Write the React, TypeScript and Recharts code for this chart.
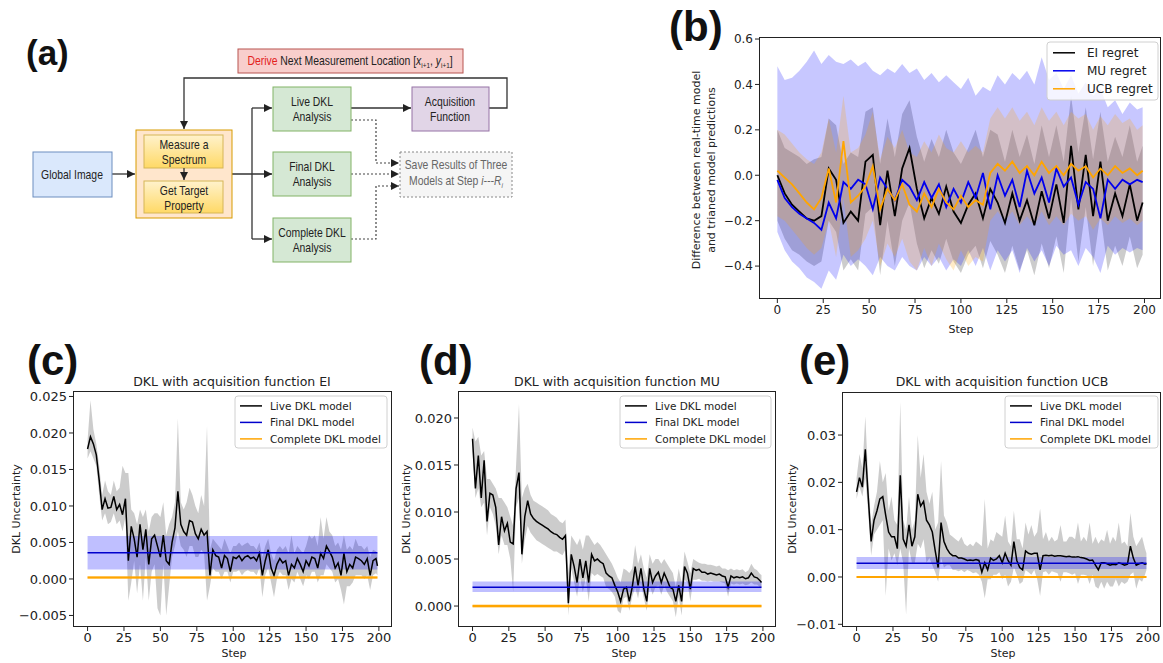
import { ComposedChart, Line, Area, XAxis, YAxis } from 'recharts';

// (b) is sampled every 4 steps, (c)-(e) every 2 steps (plus the last step)
const STEPS = [0, 4, 8, 12, 16, 20, 24, 28, 32, 36, 40, 44, 48, 52, 56, 60, 64, 68, 72, 76, 80, 84, 88, 92, 96, 100, 104, 108, 112, 116, 120, 124, 128, 132, 136, 140, 144, 148, 152, 156, 160, 164, 168, 172, 176, 180, 184, 188, 192, 196, 199];
const STEPS2 = [
  0, 2, 4, 6, 8, 10, 12, 14, 16, 18, 20, 22, 24, 26, 28, 30, 32, 34, 36, 38,
  40, 42, 44, 46, 48, 50, 52, 54, 56, 58, 60, 62, 64, 66, 68, 70, 72, 74, 76, 78,
  80, 82, 84, 86, 88, 90, 92, 94, 96, 98, 100, 102, 104, 106, 108, 110, 112, 114, 116, 118,
  120, 122, 124, 126, 128, 130, 132, 134, 136, 138, 140, 142, 144, 146, 148, 150, 152, 154, 156, 158,
  160, 162, 164, 166, 168, 170, 172, 174, 176, 178, 180, 182, 184, 186, 188, 190, 192, 194, 196, 198, 199,
];
const X_TICKS = [0, 25, 50, 75, 100, 125, 150, 175, 200];

// (b) regret curves
const EI_REGRET = [0.0, -0.08, -0.13, -0.16, -0.19, -0.2, -0.18, 0.03, -0.02, -0.21, -0.16, -0.2, 0.06, 0.09, -0.22, 0.02, -0.18, 0.03, 0.12, -0.06, -0.19, -0.1, -0.17, -0.05, -0.16, -0.21, -0.13, -0.08, -0.19, -0.06, -0.12, -0.21, -0.08, -0.2, -0.11, -0.22, -0.07, -0.19, -0.04, -0.21, 0.13, -0.15, 0.09, -0.18, 0.06, -0.2, -0.08, -0.18, -0.04, -0.2, -0.12];
const EI_REGRET_HI = [0.2, 0.12, 0.1, 0.08, 0.05, 0.07, 0.08, 0.25, 0.22, 0.05, 0.1, 0.08, 0.28, 0.3, 0.05, 0.25, 0.08, 0.27, 0.33, 0.17, 0.06, 0.16, 0.08, 0.2, 0.1, 0.05, 0.12, 0.2, 0.08, 0.2, 0.18, 0.06, 0.2, 0.08, 0.18, 0.05, 0.22, 0.08, 0.22, 0.06, 0.35, 0.1, 0.3, 0.07, 0.28, 0.06, 0.17, 0.08, 0.22, 0.06, 0.13];
const EI_REGRET_LO = [-0.2, -0.28, -0.33, -0.35, -0.38, -0.4, -0.38, -0.2, -0.25, -0.42, -0.37, -0.42, -0.17, -0.14, -0.44, -0.2, -0.4, -0.2, -0.12, -0.3, -0.41, -0.33, -0.39, -0.28, -0.38, -0.43, -0.35, -0.31, -0.41, -0.29, -0.35, -0.43, -0.31, -0.42, -0.33, -0.44, -0.3, -0.41, -0.27, -0.43, -0.1, -0.38, -0.14, -0.4, -0.17, -0.42, -0.31, -0.4, -0.27, -0.41, -0.35];

const MU_REGRET = [-0.02, -0.1, -0.14, -0.17, -0.19, -0.21, -0.24, -0.12, -0.19, -0.03, -0.06, -0.02, -0.04, -0.15, -0.01, -0.06, -0.11, -0.02, -0.05, -0.11, -0.03, -0.1, -0.04, -0.14, -0.06, -0.12, -0.03, -0.1, 0.01, -0.15, 0.0, -0.09, -0.02, -0.14, 0.02, -0.08, -0.01, -0.12, 0.03, -0.05, -0.01, -0.13, -0.03, -0.06, -0.19, -0.02, -0.06, -0.02, -0.04, -0.02, -0.03];
const MU_REGRET_HI = [0.48, 0.42, 0.43, 0.46, 0.5, 0.55, 0.49, 0.53, 0.5, 0.49, 0.51, 0.48, 0.5, 0.46, 0.44, 0.47, 0.45, 0.49, 0.45, 0.47, 0.42, 0.45, 0.41, 0.44, 0.41, 0.38, 0.43, 0.35, 0.39, 0.37, 0.44, 0.4, 0.45, 0.42, 0.46, 0.4, 0.52, 0.42, 0.45, 0.38, 0.44, 0.36, 0.41, 0.35, 0.38, 0.3, 0.33, 0.27, 0.32, 0.29, 0.3];
const MU_REGRET_LO = [-0.25, -0.33, -0.38, -0.41, -0.45, -0.47, -0.5, -0.42, -0.46, -0.35, -0.4, -0.37, -0.4, -0.44, -0.36, -0.4, -0.42, -0.36, -0.4, -0.42, -0.36, -0.4, -0.36, -0.42, -0.37, -0.4, -0.33, -0.4, -0.32, -0.42, -0.33, -0.38, -0.33, -0.43, -0.32, -0.38, -0.33, -0.4, -0.31, -0.35, -0.33, -0.4, -0.32, -0.36, -0.43, -0.31, -0.35, -0.32, -0.34, -0.32, -0.33];

const UCB_REGRET = [0.02, -0.01, -0.04, -0.08, -0.12, -0.15, -0.1, 0.03, -0.12, 0.15, -0.12, -0.09, -0.05, 0.04, -0.15, -0.06, -0.11, -0.04, -0.13, -0.16, -0.08, -0.14, -0.06, -0.12, -0.15, -0.09, -0.14, -0.11, -0.13, 0.01, 0.05, 0.02, 0.06, 0.01, 0.04, 0.0, 0.06, 0.01, 0.04, 0.0, 0.05, 0.02, 0.04, -0.01, 0.03, 0.0, 0.04, 0.01, 0.03, 0.0, 0.02];
const UCB_REGRET_HI = [0.2, 0.18, 0.14, 0.1, 0.07, 0.05, 0.1, 0.25, 0.1, 0.35, 0.1, 0.12, 0.18, 0.28, 0.07, 0.17, 0.12, 0.2, 0.1, 0.08, 0.15, 0.1, 0.18, 0.12, 0.1, 0.15, 0.1, 0.13, 0.1, 0.25, 0.3, 0.25, 0.3, 0.24, 0.28, 0.22, 0.3, 0.24, 0.28, 0.22, 0.28, 0.25, 0.27, 0.2, 0.26, 0.22, 0.27, 0.23, 0.25, 0.2, 0.22];
const UCB_REGRET_LO = [-0.18, -0.2, -0.24, -0.28, -0.32, -0.35, -0.32, -0.2, -0.36, -0.1, -0.36, -0.33, -0.28, -0.2, -0.4, -0.3, -0.36, -0.28, -0.38, -0.42, -0.32, -0.4, -0.3, -0.37, -0.42, -0.33, -0.4, -0.36, -0.38, -0.2, -0.16, -0.2, -0.16, -0.22, -0.18, -0.22, -0.16, -0.22, -0.18, -0.22, -0.17, -0.2, -0.18, -0.24, -0.19, -0.22, -0.18, -0.21, -0.19, -0.22, -0.2];

// (c) DKL uncertainty, acquisition EI
const EI_LIVE = [
  0.0178, 0.0195, 0.0185, 0.017, 0.0135, 0.0095, 0.011, 0.0097, 0.0098, 0.0113,
  0.0095, 0.0102, 0.0088, 0.011, 0.0025, 0.0072, 0.0055, 0.003, 0.0075, 0.004,
  0.0068, 0.002, 0.0055, 0.006, 0.0045, 0.003, 0.006, 0.0025, 0.002, 0.005,
  0.007, 0.012, 0.0075, 0.0065, 0.006, 0.008, 0.0078, 0.0062, 0.0055, 0.0068,
  0.006, 0.0065, 0.0005, 0.004, 0.0032, 0.003, 0.0015, 0.0032, 0.0028, 0.001,
  0.003, 0.0028, 0.0032, 0.0025, 0.003, 0.0032, 0.0028, 0.003, 0.0025, 0.0035,
  0.0005, 0.0025, 0.004, 0.0015, 0.0005, 0.002, 0.0028, 0.0022, 0.0025, 0.0005,
  0.002, 0.0015, 0.0028, 0.002, 0.001, 0.0025, 0.0018, 0.003, 0.0028, 0.0015,
  0.0035, 0.0028, 0.0045, 0.0038, 0.003, 0.0015, 0.0022, 0.0005, 0.0035, 0.001,
  0.002, 0.0015, 0.003, 0.0028, 0.0025, 0.002, 0.0028, 0.0005, 0.0025, 0.0028, 0.0018,
];
const EI_LIVE_HI = [
  0.019, 0.0245, 0.0205, 0.0185, 0.0155, 0.0115, 0.0135, 0.012, 0.0115, 0.0135,
  0.012, 0.0125, 0.0155, 0.0145, 0.0145, 0.0095, 0.009, 0.0075, 0.0095, 0.0085,
  0.0095, 0.0065, 0.0085, 0.009, 0.009, 0.0085, 0.0105, 0.006, 0.0075, 0.0085,
  0.0105, 0.022, 0.0105, 0.0095, 0.0105, 0.0125, 0.0115, 0.01, 0.009, 0.0115,
  0.01, 0.021, 0.004, 0.0055, 0.005, 0.0045, 0.004, 0.0055, 0.0045, 0.0035,
  0.0045, 0.0045, 0.005, 0.0045, 0.0048, 0.005, 0.0045, 0.0045, 0.004, 0.005,
  0.003, 0.0045, 0.0055, 0.0035, 0.0025, 0.004, 0.0045, 0.004, 0.0045, 0.0035,
  0.006, 0.0035, 0.0045, 0.004, 0.0035, 0.0045, 0.006, 0.0055, 0.006, 0.0045,
  0.0085, 0.0055, 0.0085, 0.0065, 0.006, 0.0045, 0.005, 0.004, 0.006, 0.004,
  0.0045, 0.004, 0.0055, 0.0045, 0.0045, 0.004, 0.0045, 0.003, 0.004, 0.0038, 0.0035,
];
const EI_LIVE_LO = [
  0.0165, 0.0175, 0.0165, 0.0155, 0.0115, 0.008, 0.009, 0.0075, 0.0078, 0.009,
  0.0075, 0.008, 0.0065, 0.0085, -0.003, -0.0005, 0.0025, -0.002, 0.002, -0.003,
  0.003, -0.003, 0.001, 0.002, -0.004, -0.005, 0.002, -0.005, -0.001, 0.003,
  0.0045, 0.0065, 0.0045, 0.004, 0.003, 0.0045, 0.0045, 0.003, 0.003, 0.004,
  0.0035, -0.003, -0.001, 0.0015, 0.001, 0.001, 0.0, 0.001, 0.001, -0.0005,
  0.001, 0.001, 0.0012, 0.0005, 0.001, 0.0012, 0.001, 0.001, 0.0005, 0.0015,
  -0.0025, 0.0005, 0.0015, -0.0005, -0.0025, 0.0, 0.001, 0.0005, 0.0005, -0.0015,
  0.0, -0.0005, 0.001, 0.0, -0.001, 0.0005, 0.0, 0.001, 0.001, -0.0005,
  0.0005, 0.0005, 0.002, 0.0015, 0.001, -0.0005, 0.0, -0.0015, -0.0035, -0.001,
  -0.001, -0.0005, 0.0005, 0.0005, 0.0005, 0.0, 0.0005, -0.0015, 0.0005, 0.0008, 0.0005,
];
const EI_FINAL = [0.0013, 0.0036, 0.0059]; // low, mean, high
const EI_COMPLETE = [0.0, 0.0002, 0.0004];

// (d) acquisition MU
const MU_LIVE = [
  0.0178, 0.0125, 0.016, 0.0115, 0.0155, 0.009, 0.012, 0.0118, 0.0105, 0.0065,
  0.0095, 0.008, 0.0088, 0.0068, 0.0066, 0.0125, 0.0142, 0.0055, 0.0095, 0.0112,
  0.0098, 0.0093, 0.009, 0.0088, 0.0086, 0.0084, 0.0082, 0.0079, 0.0077, 0.0076,
  0.0073, 0.0071, 0.0075, 0.0003, 0.0055, 0.0042, 0.0025, 0.005, 0.003, 0.0048,
  0.0025, 0.0055, 0.0048, 0.005, 0.0047, 0.0045, 0.0035, 0.0032, 0.003, 0.0022,
  0.0015, 0.0005, 0.0018, 0.002, 0.0005, 0.002, 0.0042, 0.0022, 0.004, 0.0018,
  0.0005, 0.004, 0.0025, 0.0032, 0.0036, 0.0025, 0.0035, 0.0028, 0.002, 0.0018,
  0.0005, 0.0022, 0.0005, 0.0042, 0.0035, 0.0018, 0.004, 0.0038, 0.0039, 0.0036,
  0.0036, 0.0034, 0.0035, 0.0034, 0.0033, 0.0034, 0.0032, 0.0031, 0.002, 0.0032,
  0.003, 0.0031, 0.003, 0.0031, 0.0029, 0.003, 0.0035, 0.0031, 0.003, 0.0027, 0.0025,
];
const MU_LIVE_HI = [
  0.019, 0.0175, 0.018, 0.016, 0.0165, 0.0135, 0.0135, 0.013, 0.0125, 0.0115,
  0.0115, 0.011, 0.0105, 0.0095, 0.0085, 0.015, 0.0215, 0.0115, 0.0125, 0.013,
  0.0118, 0.0112, 0.011, 0.0108, 0.0106, 0.0104, 0.0102, 0.0098, 0.0096, 0.0094,
  0.009, 0.0088, 0.0092, 0.0035, 0.0075, 0.007, 0.0065, 0.0072, 0.006, 0.0075,
  0.0075, 0.007, 0.0065, 0.0068, 0.0065, 0.006, 0.0055, 0.005, 0.0045, 0.0038,
  0.003, 0.0025, 0.004, 0.0038, 0.0035, 0.004, 0.0065, 0.0045, 0.0055, 0.004,
  0.003, 0.0055, 0.0045, 0.005, 0.005, 0.0045, 0.005, 0.0045, 0.004, 0.0035,
  0.002, 0.004, 0.0025, 0.0058, 0.0047, 0.0035, 0.005, 0.0048, 0.0046, 0.0045,
  0.0045, 0.0044, 0.0044, 0.0043, 0.0042, 0.0043, 0.004, 0.004, 0.0038, 0.004,
  0.0038, 0.0039, 0.0038, 0.0039, 0.0036, 0.0038, 0.0045, 0.004, 0.0038, 0.0034, 0.0033,
];
const MU_LIVE_LO = [
  0.0165, 0.0115, 0.0125, 0.0105, 0.011, 0.0075, 0.0105, 0.0098, 0.0085, 0.0055,
  0.0075, 0.0065, 0.0065, 0.005, 0.0015, 0.0105, 0.0115, 0.0045, 0.007, 0.0085,
  0.0078, 0.0074, 0.007, 0.0068, 0.0066, 0.0064, 0.0062, 0.006, 0.0058, 0.0058,
  0.0056, 0.0054, 0.006, -0.001, 0.004, 0.0025, 0.001, 0.003, 0.0015, 0.003,
  0.0005, 0.0035, 0.0032, 0.0034, 0.0032, 0.003, 0.002, 0.0018, 0.0015, 0.001,
  -0.0005, -0.0008, 0.0008, 0.001, -0.0005, 0.001, 0.002, 0.0008, 0.0025, 0.0008,
  -0.0005, 0.0022, 0.0012, 0.002, 0.0022, 0.0012, 0.0022, 0.0015, 0.001, 0.0005,
  -0.0012, 0.001, -0.001, 0.0028, 0.0025, 0.0005, 0.0028, 0.0028, 0.0029, 0.0027,
  0.0027, 0.0026, 0.0027, 0.0026, 0.0026, 0.0026, 0.0025, 0.0024, 0.001, 0.0024,
  0.0023, 0.0024, 0.0023, 0.0024, 0.0022, 0.0023, 0.0025, 0.0023, 0.0023, 0.002, 0.002,
];
const MU_FINAL = [0.0015, 0.002, 0.0026];
const MU_COMPLETE = [-0.0002, 0.0, 0.0002];

// (e) acquisition UCB
const UCB_LIVE = [
  0.018, 0.021, 0.019, 0.027, 0.017, 0.0075, 0.012, 0.014, 0.0165, 0.017,
  0.013, 0.0095, 0.0085, 0.0085, 0.006, 0.0215, 0.008, 0.0065, 0.011, 0.0065,
  0.0085, 0.0175, 0.015, 0.016, 0.012, 0.011, 0.0095, 0.0055, 0.002, 0.0115,
  0.0075, 0.006, 0.005, 0.0045, 0.0045, 0.004, 0.004, 0.0038, 0.0035, 0.0036,
  0.0035, 0.0037, 0.0035, 0.001, 0.003, 0.0015, 0.004, 0.0035, 0.0038, 0.0045,
  0.003, 0.005, 0.0035, 0.0025, 0.0075, 0.0035, 0.002, 0.0015, 0.0055, 0.005,
  0.0048, 0.005, 0.005, 0.0015, 0.0045, 0.0046, 0.0045, 0.0046, 0.0044, 0.0045,
  0.0045, 0.0044, 0.0043, 0.0044, 0.0042, 0.0042, 0.0043, 0.0041, 0.004, 0.0038,
  0.0035, 0.0036, 0.0025, 0.0015, 0.003, 0.003, 0.0028, 0.0025, 0.0027, 0.0026,
  0.003, 0.0028, 0.0025, 0.0027, 0.0065, 0.004, 0.0025, 0.0028, 0.003, 0.0027, 0.0028,
];
const UCB_LIVE_HI = [
  0.021, 0.026, 0.023, 0.034, 0.021, 0.011, 0.015, 0.018, 0.0245, 0.02,
  0.022, 0.014, 0.017, 0.012, 0.011, 0.037, 0.012, 0.01, 0.017, 0.01,
  0.012, 0.03, 0.021, 0.026, 0.018, 0.0155, 0.018, 0.01, 0.0115, 0.0245,
  0.013, 0.0115, 0.009, 0.0085, 0.008, 0.0075, 0.0085, 0.007, 0.0065, 0.007,
  0.0065, 0.0075, 0.007, 0.0065, 0.0165, 0.006, 0.008, 0.0075, 0.0095, 0.009,
  0.0085, 0.013, 0.0075, 0.0065, 0.014, 0.008, 0.008, 0.006, 0.0115, 0.009,
  0.011, 0.0085, 0.0095, 0.0145, 0.008, 0.0095, 0.0075, 0.0085, 0.0075, 0.008,
  0.011, 0.0075, 0.0075, 0.0085, 0.0085, 0.008, 0.0115, 0.0075, 0.0085, 0.0075,
  0.0115, 0.007, 0.0085, 0.007, 0.008, 0.0075, 0.01, 0.007, 0.0085, 0.0075,
  0.0115, 0.007, 0.0075, 0.0065, 0.0135, 0.0085, 0.0065, 0.0075, 0.0085, 0.006, 0.005,
];
const UCB_LIVE_LO = [
  0.0165, 0.019, 0.017, 0.021, 0.0135, 0.0045, 0.009, 0.01, 0.011, 0.012,
  -0.004, 0.006, 0.0035, 0.005, 0.0025, 0.006, 0.003, -0.008, 0.006, 0.003,
  0.003, 0.007, 0.006, 0.008, 0.003, 0.004, 0.0025, 0.001, -0.001, 0.004,
  0.002, 0.0025, 0.0025, 0.0015, 0.0015, 0.0012, 0.0015, 0.001, 0.0015, 0.0012,
  0.0008, 0.001, 0.0005, -0.001, -0.0045, -0.0005, -0.0005, 0.0005, 0.0005, 0.001,
  -0.0005, 0.0005, -0.002, -0.001, 0.002, 0.0005, -0.0015, -0.001, 0.0015, 0.001,
  0.0005, 0.0015, -0.0005, -0.004, 0.001, 0.0012, 0.0005, 0.0012, 0.001, 0.0008,
  -0.001, 0.001, 0.001, 0.0008, 0.0005, 0.0008, -0.0015, 0.0005, 0.0005, 0.0003,
  -0.0015, 0.0005, -0.002, -0.0025, -0.001, -0.0025, -0.001, -0.002, -0.002, -0.0005,
  -0.002, -0.001, -0.0015, -0.001, 0.0005, 0.001, -0.0025, -0.0005, -0.001, 0.0005, 0.0015,
];
const UCB_FINAL = [0.0017, 0.0029, 0.0042];
const UCB_COMPLETE = [-0.0002, 0.0, 0.0002];

const regretData = STEPS.map((step, i) => ({
  step,
  ei: EI_REGRET[i], eiBand: [EI_REGRET_LO[i], EI_REGRET_HI[i]],
  mu: MU_REGRET[i], muBand: [MU_REGRET_LO[i], MU_REGRET_HI[i]],
  ucb: UCB_REGRET[i], ucbBand: [UCB_REGRET_LO[i], UCB_REGRET_HI[i]],
}));

const dklRows = (live: number[], lo: number[], hi: number[], fin: number[], comp: number[]) =>
  STEPS2.map((step, i) => ({
    step,
    live: live[i], liveBand: [lo[i], hi[i]],
    fin: fin[1], finBand: [fin[0], fin[2]],
    comp: comp[1], compBand: [comp[0], comp[2]],
  }));

const FONT = "'DejaVu Sans', sans-serif";
const FLOW_FONT = "'Liberation Sans', Arial, sans-serif";
const INK = '#222';

const fmt = (d: number) => (v: number) => (v < 0 ? '\u2212' + Math.abs(v).toFixed(d) : v.toFixed(d));

const PAD_L = 80, PAD_T = 10, PAD_R = 6, PAD_B = 40;

function Plot({ box, data, yDomain, yTicks, digits, fontSize, children }: any) {
  const [x0, y0, x1, y1] = box;
  const w = x1 - x0, h = y1 - y0;
  const tick = { fontSize, fill: INK, fontFamily: FONT };
  return (
    <div style={{ position: 'absolute', left: x0 - PAD_L, top: y0 - PAD_T, fontFamily: FONT }}>
      <ComposedChart width={w + PAD_L + PAD_R} height={h + PAD_T + PAD_B} data={data}
        margin={{ top: PAD_T, right: PAD_R, left: 0, bottom: 0 }}>
        <XAxis type="number" dataKey="step" domain={[-10, 209]} ticks={X_TICKS} interval={0} allowDataOverflow
          height={PAD_B} tickSize={4} axisLine={false} tickLine={{ stroke: INK }} tick={tick} />
        <YAxis type="number" domain={yDomain} ticks={yTicks} interval={0} allowDataOverflow width={PAD_L}
          tickSize={4} axisLine={false} tickLine={{ stroke: INK }} tick={tick} tickFormatter={fmt(digits)} />
        {children}
      </ComposedChart>
      <div style={{ position: 'absolute', left: PAD_L, top: PAD_T, width: w, height: h, border: `1px solid ${INK}`, boxSizing: 'border-box', pointerEvents: 'none' }} />
    </div>
  );
}

const dklSeries = () => [
  <Area key="lb" type="linear" dataKey="liveBand" stroke="none" fill="#000" fillOpacity={0.2} isAnimationActive={false} />,
  <Line key="l" type="linear" dataKey="live" stroke="#000" strokeWidth={1.5} dot={false} isAnimationActive={false} />,
  <Area key="fb" type="linear" dataKey="finBand" stroke="none" fill="#0000ff" fillOpacity={0.25} isAnimationActive={false} />,
  <Line key="f" type="linear" dataKey="fin" stroke="#0000cc" strokeWidth={1.5} dot={false} isAnimationActive={false} />,
  <Area key="cb" type="linear" dataKey="compBand" stroke="none" fill="#ffa500" fillOpacity={0.35} isAnimationActive={false} />,
  <Line key="c" type="linear" dataKey="comp" stroke="#ffa500" strokeWidth={2} dot={false} isAnimationActive={false} />,
];

const T = ({ x, y, children, fill = INK, size = 13, sx = 0.8 }: any) => (
  <text transform={`translate(${x},${y}) scale(${sx},1)`} textAnchor="middle" fontSize={size} fontFamily={FLOW_FONT} fill={fill}>{children}</text>
);

const Legend = ({ x, y, w, h, rows, rowH, fs, lineX, textX }: any) => (
  <g fontFamily={FONT}>
    <rect x={x} y={y} width={w} height={h} rx={3} fill="#fff" fillOpacity={0.8} stroke="#d0d0d0" />
    {rows.map((r: any, i: number) => (
      <g key={r.label}>
        <line x1={lineX} x2={lineX + 22} y1={y + rowH * (i + 0.6)} y2={y + rowH * (i + 0.6)} stroke={r.color} strokeWidth={1.5} />
        <text x={textX} y={y + rowH * (i + 0.6) + fs * 0.36} fontSize={fs} fill={INK}>{r.label}</text>
      </g>
    ))}
  </g>
);

const DKL_ROWS = [
  { label: 'Live DKL model', color: '#000' },
  { label: 'Final DKL model', color: '#0000cc' },
  { label: 'Complete DKL model', color: '#ffa500' },
];

const Overlay = () => (
  <svg width={1163} height={663} style={{ position: 'absolute', left: 0, top: 0, pointerEvents: 'none' }}>
    <defs>
      <marker id="arr" viewBox="0 0 10 10" refX="10" refY="5" markerWidth="8" markerHeight="8" markerUnits="userSpaceOnUse" orient="auto">
        <path d="M0,0 L10,5 L0,10 z" fill="#222" />
      </marker>
      <linearGradient id="yel" x1="0" y1="0" x2="0" y2="1">
        <stop offset="0%" stopColor="#fff2cc" />
        <stop offset="100%" stopColor="#ffd966" />
      </linearGradient>
    </defs>

    {/* panel labels */}
    <g fontFamily={FLOW_FONT} fontWeight="bold" fill="#111">
      <text x={26} y={65} fontSize={35}>(a)</text>
      <text x={669} y={41} fontSize={42}>(b)</text>
      <text x={27} y={375} fontSize={42}>(c)</text>
      <text x={419} y={375} fontSize={42}>(d)</text>
      <text x={799} y={375} fontSize={42}>(e)</text>
    </g>

    {/* (a) flowchart */}
    <g stroke="#333" strokeWidth={1.3} fill="none">
      <polyline points="489,108 507,108 507,78 184,78 184,129" markerEnd="url(#arr)" />
      <line x1={112} y1={174} x2={135} y2={174} markerEnd="url(#arr)" />
      <line x1={232} y1={174} x2={272} y2={174} markerEnd="url(#arr)" />
      <line x1={252} y1={108} x2={252} y2={239} />
      <line x1={252} y1={108} x2={272} y2={108} markerEnd="url(#arr)" />
      <line x1={252} y1={239} x2={272} y2={239} markerEnd="url(#arr)" />
      <line x1={351} y1={108} x2={411} y2={108} markerEnd="url(#arr)" />
    </g>
    <g stroke="#444" strokeWidth={1.2} fill="none" strokeDasharray="2 2">
      <polyline points="351,120 376,120 376,163 399,163" markerEnd="url(#arr)" />
      <line x1={351} y1={174} x2={399} y2={174} markerEnd="url(#arr)" />
      <polyline points="351,239 376,239 376,186 399,186" markerEnd="url(#arr)" />
    </g>
    <rect x={238} y={49} width={225} height={24} fill="#f8cecc" stroke="#b85450" />
    <text transform="translate(350,65) scale(0.8,1)" textAnchor="middle" fontSize={13} fontFamily={FLOW_FONT} fill={INK}>
      <tspan fill="#e3211c">Derive</tspan>
      <tspan>{' Next Measurement Location ['}</tspan>
      <tspan fontStyle="italic">x</tspan>
      <tspan fontSize={8} dy={3}>i+1</tspan>
      <tspan dy={-3}>{', '}</tspan>
      <tspan fontStyle="italic">y</tspan>
      <tspan fontSize={8} dy={3}>i+1</tspan>
      <tspan dy={-3}>]</tspan>
    </text>
    <rect x={33} y={152} width={79} height={45} fill="#dae8fc" stroke="#6c8ebf" />
    <T x={72} y={179}>Global Image</T>
    <rect x={136} y={130} width={96} height={88} fill="#ffe6cc" stroke="#d79b00" />
    <rect x={144} y={135} width={79} height={33} fill="url(#yel)" stroke="#d6b656" />
    <rect x={144} y={181} width={79} height={32} fill="url(#yel)" stroke="#d6b656" />
    <line x1={184} y1={168} x2={184} y2={180} stroke="#333" strokeWidth={1.3} markerEnd="url(#arr)" />
    <T x={184} y={149}>Measure a</T>
    <T x={184} y={164}>Spectrum</T>
    <T x={184} y={195}>Get Target</T>
    <T x={184} y={210}>Property</T>
    {[87, 152, 218].map((y) => (
      <rect key={y} x={273} y={y} width={78} height={44} fill="#d5e8d4" stroke="#82b366" />
    ))}
    <T x={312} y={106}>Live DKL</T>
    <T x={312} y={121}>Analysis</T>
    <T x={312} y={171}>Final DKL</T>
    <T x={312} y={186}>Analysis</T>
    <T x={312} y={237}>Complete DKL</T>
    <T x={312} y={252}>Analysis</T>
    <rect x={412} y={87} width={77} height={44} fill="#e1d5e7" stroke="#9673a6" />
    <T x={450} y={106}>Acquisition</T>
    <T x={450} y={121}>Function</T>
    <rect x={400} y={152} width={112} height={45} fill="#f5f5f5" stroke="#888" strokeDasharray="2 2" />
    <T x={456} y={169} fill="#666">Save Results of Three</T>
    <text transform="translate(456,185) scale(0.8,1)" textAnchor="middle" fontSize={13} fontFamily={FLOW_FONT} fill="#666">
      <tspan>{'Models at Step '}</tspan>
      <tspan fontStyle="italic">i---R</tspan>
      <tspan fontSize={8} dy={3} fontStyle="italic">i</tspan>
    </text>

    {/* (b) labels */}
    <g fontFamily={FONT} fill={INK} fontSize={11} textAnchor="middle">
      <text transform="translate(700,170) rotate(-90)">Difference between real-time model</text>
      <text transform="translate(715,170) rotate(-90)">and trianed model predictions</text>
      <text x={961} y={333}>Step</text>
    </g>
    <Legend x={1047} y={42} w={111} h={58} rowH={18} fs={12} lineX={1053} textX={1087}
      rows={[{ label: 'EI regret', color: '#000' }, { label: 'MU regret', color: '#0000ee' }, { label: 'UCB regret', color: '#ffa500' }]} />

    {/* (c)-(e) labels */}
    <g fontFamily={FONT} fill={INK} textAnchor="middle">
      <text x={232} y={386} fontSize={12.5}>DKL with acquisition function EI</text>
      <text x={617} y={386} fontSize={12.5}>DKL with acquisition function MU</text>
      <text x={1002} y={386} fontSize={12.5}>DKL with acquisition function UCB</text>
      <text x={234} y={657} fontSize={11}>Step</text>
      <text x={624} y={657} fontSize={11}>Step</text>
      <text x={1003} y={657} fontSize={11}>Step</text>
      <text transform="translate(20,509) rotate(-90)" fontSize={11}>DKL Uncertainty</text>
      <text transform="translate(410,509) rotate(-90)" fontSize={11}>DKL Uncertainty</text>
      <text transform="translate(796,509) rotate(-90)" fontSize={11}>DKL Uncertainty</text>
    </g>
    <Legend x={235} y={396} w={152} h={52} rowH={16.5} fs={10.5} lineX={240} textX={270} rows={DKL_ROWS} />
    <Legend x={620} y={396} w={151} h={52} rowH={16.5} fs={10.5} lineX={625} textX={655} rows={DKL_ROWS} />
    <Legend x={1005} y={396} w={153} h={52} rowH={16.5} fs={10.5} lineX={1010} textX={1040} rows={DKL_ROWS} />
  </svg>
);

export default function App() {
  return (
    <div style={{ position: 'absolute', left: 0, top: 0, width: 1163, height: 663, background: '#fff', overflow: 'hidden' }}>
      <Plot box={[759, 37, 1161, 299]} data={regretData} yDomain={[-0.545, 0.609]} yTicks={[-0.4, -0.2, 0, 0.2, 0.4, 0.6]} digits={1} fontSize={12}>
        <Area type="linear" dataKey="eiBand" stroke="none" fill="#000" fillOpacity={0.2} isAnimationActive={false} />
        <Area type="linear" dataKey="muBand" stroke="none" fill="#0000ff" fillOpacity={0.22} isAnimationActive={false} />
        <Area type="linear" dataKey="ucbBand" stroke="none" fill="#ffa500" fillOpacity={0.22} isAnimationActive={false} />
        <Line type="linear" dataKey="ei" stroke="#000" strokeWidth={1.8} dot={false} isAnimationActive={false} />
        <Line type="linear" dataKey="mu" stroke="#0000ee" strokeWidth={1.8} dot={false} isAnimationActive={false} />
        <Line type="linear" dataKey="ucb" stroke="#ffa500" strokeWidth={1.8} dot={false} isAnimationActive={false} />
      </Plot>
      <Plot box={[73, 391, 392, 627]} data={dklRows(EI_LIVE, EI_LIVE_LO, EI_LIVE_HI, EI_FINAL, EI_COMPLETE)}
        yDomain={[-0.00658, 0.02575]} yTicks={[-0.005, 0, 0.005, 0.01, 0.015, 0.02, 0.025]} digits={3} fontSize={13}>
        {dklSeries()}
      </Plot>
      <Plot box={[458, 391, 776, 627]} data={dklRows(MU_LIVE, MU_LIVE_LO, MU_LIVE_HI, MU_FINAL, MU_COMPLETE)}
        yDomain={[-0.00223, 0.02287]} yTicks={[0, 0.005, 0.01, 0.015, 0.02]} digits={3} fontSize={13}>
        {dklSeries()}
      </Plot>
      <Plot box={[842, 392, 1161, 627]} data={dklRows(UCB_LIVE, UCB_LIVE_LO, UCB_LIVE_HI, UCB_FINAL, UCB_COMPLETE)}
        yDomain={[-0.01057, 0.0391]} yTicks={[-0.01, 0, 0.01, 0.02, 0.03]} digits={2} fontSize={13}>
        {dklSeries()}
      </Plot>
      <Overlay />
    </div>
  );
}
